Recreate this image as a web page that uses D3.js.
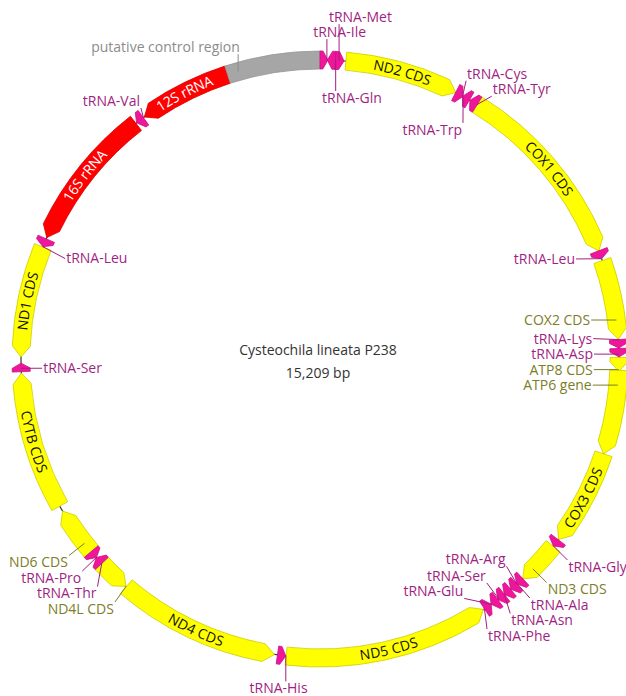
<!DOCTYPE html>
<html>
<head>
<meta charset="utf-8">
<script src="https://cdn.jsdelivr.net/npm/d3@7"></script>
<style>
  body { margin: 0; background: #fff; }
  svg text { font-family: "Open Sans", sans-serif; font-size: 14px; }
</style>
</head>
<body>
<svg width="626" height="696"></svg>
<script>
var genomeName = "Cysteochila lineata P238";
var genomeLength = 15209;

// features, clockwise from the origin at 12 o'clock
var featureNames = ["tRNA-Ile","tRNA-Gln","tRNA-Met","ND2 CDS","tRNA-Trp","tRNA-Cys","tRNA-Tyr","COX1 CDS",
  "tRNA-Leu","COX2 CDS","tRNA-Lys","tRNA-Asp","ATP8 CDS","ATP6 gene","COX3 CDS","tRNA-Gly","ND3 CDS",
  "tRNA-Ala","tRNA-Arg","tRNA-Asn","tRNA-Ser","tRNA-Glu","tRNA-Phe","ND5 CDS","tRNA-His","ND4 CDS",
  "ND4L CDS","tRNA-Thr","tRNA-Pro","ND6 CDS","CYTB CDS","tRNA-Ser","ND1 CDS","tRNA-Leu","16S rRNA",
  "tRNA-Val","12S rRNA","putative control region"];
var featureTypes = ["tRNA","tRNA","tRNA","CDS","tRNA","tRNA","tRNA","CDS",
  "tRNA","CDS","tRNA","tRNA","CDS","gene","CDS","tRNA","CDS",
  "tRNA","tRNA","tRNA","tRNA","tRNA","tRNA","CDS","tRNA","CDS",
  "CDS","tRNA","tRNA","CDS","CDS","tRNA","CDS","tRNA","rRNA",
  "tRNA","rRNA","region"];
var featureStarts = [1,60,127,211,1141,1204,1272,1343,2907,2991,3646,3718,3790,3895,4584,5374,5441,
  5801,5866,5932,5997,6065,6130,6206,7883,7976,9315,9586,9650,9713,10162,11305,11424,12340,12420,
  13612,13690,14449];
var featureEnds = [64,127,195,1141,1208,1267,1339,2907,2974,3642,3714,3785,3904,4584,5370,5437,5800,
  5865,5930,5997,6064,6130,6195,7879,7950,9311,9582,9650,9713,10115,11293,11373,12336,12408,13604,
  13680,14448,15209];
var featureStrands = [1,-1,1,1,1,-1,-1,1,1,1,1,1,1,1,1,1,1,1,1,1,1,1,-1,-1,-1,-1,-1,1,-1,1,1,1,-1,-1,-1,-1,-1,0];

// where each name goes: along the arc, or inside / outside the ring (nudges in degrees / px)
var labelLayout = [
  {side:"out", da:-1.95, dr:3, anchor:"start", stack:false},
  {side:"in", da:-1.76, dr:-12, anchor:"start", stack:false},
  {side:"out", da:-2.3, dr:18, stack:false},
  {side:"arc"},
  {side:"in", da:4, dr:-3.5},
  {side:"out", da:-1.5, dr:-3},
  {side:"out", da:1.35, dr:-3.6},
  {side:"arc"},
  {side:"in", da:-1, dr:1},
  {side:"in", da:3.3},
  {side:"in"},
  {side:"in"},
  {side:"in"},
  {side:"in", da:-4.85},
  {side:"arc"},
  {side:"out", da:2},
  {side:"out", da:2.85},
  {side:"out", da:2},
  {side:"in", da:-2.4},
  {side:"out", da:2.4},
  {side:"in", da:0},
  {side:"in", da:3.9},
  {side:"out", da:1.7},
  {side:"arc"},
  {side:"out", da:-0.2, dr:8, anchor:"middle", stack:false},
  {side:"arc"},
  {side:"out", da:-3.15},
  {side:"out", da:-3.35},
  {side:"out", da:-2.55},
  {side:"out", da:-4.2},
  {side:"arc"},
  {side:"in", da:-0.3, dr:4},
  {side:"arc"},
  {side:"in", da:-1.3},
  {side:"arc"},
  {side:"out", da:2.1, dr:-9.4},
  {side:"arc"},
  {side:"out", da:-5.4, dr:-2, stack:false}
];

var fillColor = {CDS:"#ffff00", gene:"#ffff00", tRNA:"#f0169b", rRNA:"#ff0000", region:"#a6a6a6"};
var edgeColor = {CDS:"#cccc00", gene:"#cccc00", tRNA:"#c8107e", rRNA:"#d80000", region:"#949494"};
var labelColor = {CDS:"#7d7d26", gene:"#7d7d26", tRNA:"#a11f82", rRNA:"#ffffff", region:"#8c8c8c"};

var svg = d3.select("svg"),
    cx = 320, cy = 359,
    R = 299, hw = 9,
    R_OUT = 324, R_IN = 273;

var angle = d3.scaleLinear().domain([0, genomeLength]).range([0, 2 * Math.PI]);

function pt(a, r) { return [cx + r * Math.sin(a), cy - r * Math.cos(a)]; }
function arcTo(r, a, large, sweep) { var p = pt(a, r); return "A" + r + "," + r + " 0 " + large + " " + sweep + " " + p[0] + "," + p[1]; }

var features = featureNames.map(function(n, i) {
  return {name: n, type: featureTypes[i], strand: featureStrands[i],
          a0: angle(featureStarts[i] - 1), a1: angle(featureEnds[i]), layout: labelLayout[i]};
});

function arrowPath(d) {
  var ro = R + hw, ri = R - hw, a0 = d.a0, a1 = d.a1;
  var tipPx = d.type === "tRNA" ? 5 : 11;
  var tip = d.strand === 0 ? 0 : Math.min(tipPx / R, (a1 - a0) * 0.7);
  var large = (a1 - a0 - tip) > Math.PI ? 1 : 0, p;
  if (d.strand >= 0) {
    p = "M" + pt(a0, ro) + arcTo(ro, a1 - tip, large, 1);
    p += "L" + pt(a1, d.strand ? R : ro) + "L" + pt(a1 - tip, ri);
    p += arcTo(ri, a0, large, 0) + "Z";
  } else {
    p = "M" + pt(a0, R) + "L" + pt(a0 + tip, ro) + arcTo(ro, a1, large, 1);
    p += "L" + pt(a1, ri) + arcTo(ri, a0 + tip, large, 0) + "Z";
  }
  return p;
}

// backbone
svg.append("circle").attr("cx", cx).attr("cy", cy).attr("r", R)
    .attr("fill", "none").attr("stroke", "#333").attr("stroke-width", 1.2);

var big = features.filter(function(d) { return d.type !== "tRNA"; }),
    small = features.filter(function(d) { return d.type === "tRNA"; });

svg.append("g").selectAll("path").data(big.concat(small)).enter().append("path")
    .attr("d", arrowPath)
    .attr("fill", function(d) { return fillColor[d.type]; })
    .attr("stroke", function(d) { return edgeColor[d.type]; })
    .attr("stroke-width", 0.8)
    .attr("stroke-linejoin", "round");

// names along the arc
var arcFeats = features.filter(function(d) { return d.layout.side === "arc"; });
var defs = svg.append("defs");
arcFeats.forEach(function(d, i) {
  var m = (d.a0 + d.a1) / 2, flip = m > Math.PI / 2 && m < 3 * Math.PI / 2;
  var p = flip ? "M" + pt(m + 1, R) + arcTo(R, m - 1, 0, 0) : "M" + pt(m - 1, R) + arcTo(R, m + 1, 0, 1);
  defs.append("path").attr("id", "arc" + i).attr("d", p);
  svg.append("text").attr("dy", "0.35em")
      .attr("fill", d.type === "rRNA" ? "#fff" : "#111")
    .append("textPath").attr("href", "#arc" + i)
      .attr("startOffset", "50%").attr("text-anchor", "middle")
      .text(d.name);
});

// names off the ring
var outside = features.filter(function(d) { return d.layout.side !== "arc"; });
outside.forEach(function(d) {
  var L = d.layout, m = (d.a0 + d.a1) / 2;
  d.theta = m + (L.da || 0) * Math.PI / 180;
  d.r = (L.side === "out" ? R_OUT : R_IN) + (L.dr || 0);
  var p = pt(d.theta, d.r);
  d.x0 = p[0]; d.y0 = p[1]; d.y = p[1];
  d.s = Math.sin(d.theta) >= 0 ? 1 : -1;
});

function spread(items, gap) {
  items.sort(function(a, b) { return a.y0 - b.y0; });
  var clusters = items.map(function(d) { return {items: [d], sum: d.y0}; });
  var merged = true;
  while (merged) {
    merged = false;
    for (var i = 1; i < clusters.length; i++) {
      var a = clusters[i - 1], b = clusters[i];
      var aBottom = a.sum / a.items.length + (a.items.length - 1) * gap / 2;
      var bTop = b.sum / b.items.length - (b.items.length - 1) * gap / 2;
      if (bTop - aBottom < gap) {
        a.items = a.items.concat(b.items); a.sum += b.sum;
        clusters.splice(i, 1); merged = true; break;
      }
    }
  }
  clusters.forEach(function(c) {
    var mean = c.sum / c.items.length, n = c.items.length;
    c.items.forEach(function(d, k) { d.y = mean + (k - (n - 1) / 2) * gap; });
  });
}

var groups = d3.group(outside.filter(function(d) { return d.layout.stack !== false; }),
    function(d) { return d.layout.side + d.s; });
groups.forEach(function(items) { spread(items, 15.5); });

outside.forEach(function(d) {
  var dy = d.y - cy;
  d.x = (d.layout.stack !== false && Math.abs(dy) < d.r * 0.9) ? cx + d.s * Math.sqrt(d.r * d.r - dy * dy) : d.x0;
  d.anchor = d.layout.anchor ||
    ((d.layout.side === "out") === (d.s > 0) ? "start" : "end");
});

var labels = svg.append("g").selectAll("text").data(outside).enter().append("text")
    .attr("x", function(d) { return d.x; })
    .attr("y", function(d) { return d.y; })
    .attr("dy", "0.35em")
    .attr("text-anchor", function(d) { return d.anchor; })
    .attr("fill", function(d) { return labelColor[d.type]; })
    .text(function(d) { return d.name; });

labels.each(function(d) {
  var w = this.getComputedTextLength();
  var left = d.anchor === "start" ? d.x : d.anchor === "end" ? d.x - w : d.x - w / 2;
  d.box = [left - 1, d.y - 7, left + w + 1, d.y + 7];
});

function clampAngle(a, d) {
  while (a < d.a0 - Math.PI) a += 2 * Math.PI;
  while (a > d.a1 + Math.PI) a -= 2 * Math.PI;
  return Math.max(d.a0, Math.min(d.a1, a));
}
function nearest(b, p) { return [Math.max(b[0], Math.min(b[2], p[0])), Math.max(b[1], Math.min(b[3], p[1]))]; }

svg.append("g").selectAll("line").data(outside).enter().append("line")
    .each(function(d) {
      var b = d.box, q = [(b[0] + b[2]) / 2, (b[1] + b[3]) / 2], f, a;
      if (Math.abs(Math.sin(d.theta)) > 0.85 && d.anchor !== "middle") {
        q = [d.anchor === "start" ? b[0] : b[2], d.y];
        var c = Math.max(-1, Math.min(1, (cy - d.y) / R));
        a = d.s > 0 ? Math.acos(c) : 2 * Math.PI - Math.acos(c);
        f = pt(clampAngle(a, d), R);
      } else {
        for (var k = 0; k < 3; k++) {
          a = Math.atan2(q[0] - cx, cy - q[1]);
          f = pt(clampAngle(a, d), R);
          q = nearest(b, f);
        }
      }
      d3.select(this).attr("x1", q[0]).attr("y1", q[1]).attr("x2", f[0]).attr("y2", f[1]);
    })
    .attr("stroke", function(d) { return labelColor[d.type]; })
    .attr("stroke-width", 1);

// centre caption
svg.append("text").attr("x", cx - 2).attr("y", cy - 9).attr("dy", "0.35em")
    .attr("text-anchor", "middle").attr("fill", "#333").text(genomeName);
svg.append("text").attr("x", cx - 2).attr("y", cy + 14).attr("dy", "0.35em")
    .attr("text-anchor", "middle").attr("fill", "#333").text(d3.format(",")(genomeLength) + " bp");
</script>
</body>
</html>
